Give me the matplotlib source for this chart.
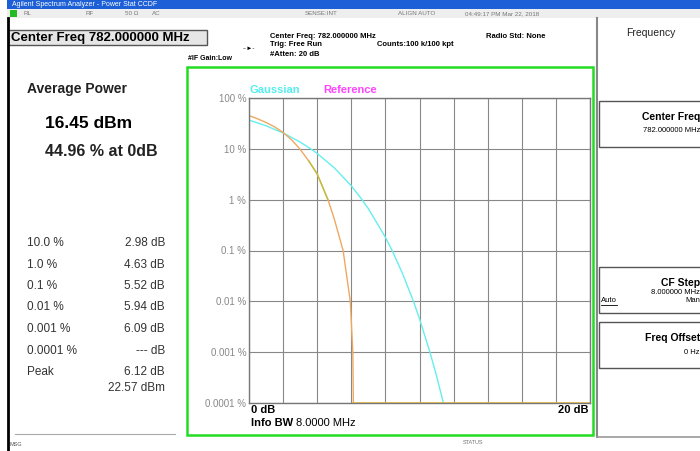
import matplotlib
matplotlib.use("Agg")
import matplotlib.pyplot as plt
from matplotlib.patches import Rectangle

plt.rcParams['font.family'] = ['Liberation Sans', 'DejaVu Sans']

# gaussian reference curve (dB above average, % of time)
gauss_db = [0, 1, 2, 3, 3.62, 4, 5, 6, 6.63, 7, 8, 8.4, 9, 9.64, 10, 10.6, 11, 11.4]
gauss_pct = [36.8, 28.4, 20.5, 13.6, 10.0, 8.11, 4.23, 1.87, 1.0, 0.665, 0.182,
             0.099, 0.0355, 0.0101, 0.00454, 0.00103, 0.000341, 0.000101]

# measured trace
meas_db = [0, 0.5, 1, 1.5, 2, 2.5, 2.98, 3.5, 4, 4.63, 5, 5.52, 5.94, 6.09, 6.12]
meas_pct = [44.96, 39, 33, 27, 21, 15, 10.0, 5.8, 3.2, 1.0, 0.42, 0.1, 0.01, 0.001, 0.0001]
floor_db = [6.12, 20]
floor_pct = [0.0001, 0.0001]

ytick_vals = [100, 10, 1, 0.1, 0.01, 0.001, 0.0001]
ytick_labels = ['100 %', '10 %', '1 %', '0.1 %', '0.01 %', '0.001 %', '0.0001 %']

table_labels = ['10.0 %', '1.0 %', '0.1 %', '0.01 %', '0.001 %', '0.0001 %', 'Peak']
table_values = ['2.98 dB', '4.63 dB', '5.52 dB', '5.94 dB', '6.09 dB', '--- dB', '6.12 dB']

W, H = 700, 451
fig = plt.figure(figsize=(7, 4.51), dpi=100)
bg = fig.add_axes([0, 0, 1, 1])
bg.set_xlim(0, W)
bg.set_ylim(H, 0)
bg.axis('off')

def box(x0, y0, x1, y1, fc='none', ec='#444444', lw=1.0, z=1):
    bg.add_patch(Rectangle((x0, y0), x1 - x0, y1 - y0, fc=fc, ec=ec, lw=lw, zorder=z))

def txt(x, y, s, size=8, weight='normal', color='black', ha='left', **kw):
    bg.text(x, y, s, fontsize=size, fontweight=weight, color=color, ha=ha, va='center', **kw)

# title bar + status row
box(7, 0, W, 9, fc='#1c5fd6', ec='none')
txt(12, 4.5, 'Agilent Spectrum Analyzer - Power Stat CCDF', size=5, color='white')
box(7, 9, W, 18, fc='#eeeeee', ec='none')
box(10, 10, 17, 17, fc='#22bb22', ec='none')
for x, s in [(24, 'RL'), (85, 'RF'), (125, '50 Ω'), (152, 'AC'), (305, 'SENSE:INT'),
             (398, 'ALIGN AUTO'), (465, '04:49:17 PM Mar 22, 2018')]:
    txt(x, 13.5, s, size=4.5, color='#777777')

# left black border
bg.plot([8, 8], [18, H], color='black', lw=2)

# center freq box
box(8, 30, 207, 45, fc='#e6e6e6', ec='#555555', lw=1)
txt(11, 38, 'Center Freq 782.000000 MHz', size=9.5, weight='bold')
txt(270, 36, 'Center Freq: 782.000000 MHz', size=5.5, weight='bold')
txt(270, 45, 'Trig: Free Run', size=5.5, weight='bold')
txt(270, 54, '#Atten: 20 dB', size=5.5, weight='bold')
txt(377, 44, 'Counts:100 k/100 kpt', size=5.5, weight='bold')
txt(486, 36, 'Radio Std: None', size=5.5, weight='bold')
txt(188, 59, '#IF Gain:Low', size=5, weight='bold')
txt(243, 48, '-·►-', size=4.5)

# right softkey panel
bg.plot([597, 597], [18, 437], color='#888888', lw=1.5)
txt(651, 33, 'Frequency', size=7.5, ha='center', color='#222222')
for y0, y1 in [(101, 147), (267, 313), (322, 368)]:
    box(599, y0, 702, y1, ec='#555555', lw=1)
txt(700, 117, 'Center Freq', size=7.5, weight='bold', ha='right')
txt(700, 130, '782.000000 MHz', size=5.5, ha='right')
txt(700, 283, 'CF Step', size=7.5, weight='bold', ha='right')
txt(700, 293, '8.000000 MHz', size=5.5, ha='right')
txt(601, 301, 'Auto', size=5.5)
bg.plot([601, 617], [304.5, 304.5], color='black', lw=0.6)
txt(700, 301, 'Man', size=5.5, ha='right')
txt(700, 338, 'Freq Offset', size=7.5, weight='bold', ha='right')
txt(700, 352, '0 Hz', size=5.5, ha='right')
bg.plot([597, W], [437, 437], color='#999999', lw=1.2)

# left result panel
txt(27, 89, 'Average Power', size=10, weight='bold', color='#222222')
txt(45, 124, '16.45 dBm', size=12.5, weight='bold')
txt(45, 152, '44.96 % at 0dB', size=11.5, weight='bold', color='#222222')
for i in range(len(table_labels)):
    y = 243 + i * 21.5
    txt(27, y, table_labels[i], size=8.5, color='#333333')
    txt(165, y, table_values[i], size=8.5, color='#333333', ha='right')
txt(165, 388, '22.57 dBm', size=8.5, color='#333333', ha='right')
bg.plot([15, 175], [434, 434], color='#aaaaaa', lw=0.8)

# bottom status bar
txt(9, 444, 'MSG', size=4, color='#555555')
txt(463, 443, 'STATUS', size=4, color='#777777')

# green graticule frame
box(187, 67, 593, 435, ec='#22dd22', lw=1.8)
txt(250, 90, 'Gaussian', size=8, weight='bold', color='#55eeee')
txt(323, 90, 'Reference', size=8, weight='bold', color='#ff44ff')
txt(251, 410, '0 dB', size=8, weight='bold')
txt(589, 410, '20 dB', size=8, weight='bold', ha='right')
txt(251, 423, 'Info BW', size=8, weight='bold')
txt(296, 423, '8.0000 MHz', size=8)

# CCDF plot area
ax = fig.add_axes([249 / W, 1 - 403 / H, 341 / W, 305 / H])
ax.set_yscale('log')
ax.set_xlim(0, 20)
ax.set_ylim(0.0001, 100)
ax.set_xticks([i * 2 for i in range(11)])
ax.set_xticklabels([])
ax.set_yticks(ytick_vals)
ax.set_yticklabels(ytick_labels, fontsize=7, color='#888888')
ax.minorticks_off()
ax.tick_params(length=0, pad=2)
ax.grid(True, color='#888888', lw=0.8)
for s in ax.spines.values():
    s.set_color('#777777')
    s.set_linewidth(1)

ax.plot(gauss_db, gauss_pct, color='#66eeee', lw=1)
ax.plot(meas_db, meas_pct, color='#f0a860', lw=1)
ax.plot(meas_db[7:10], meas_pct[7:10], color='#c0c040', lw=1)
ax.plot(floor_db, floor_pct, color='#f0c040', lw=1.2, clip_on=False)

fig.savefig('out.png', dpi=100)
